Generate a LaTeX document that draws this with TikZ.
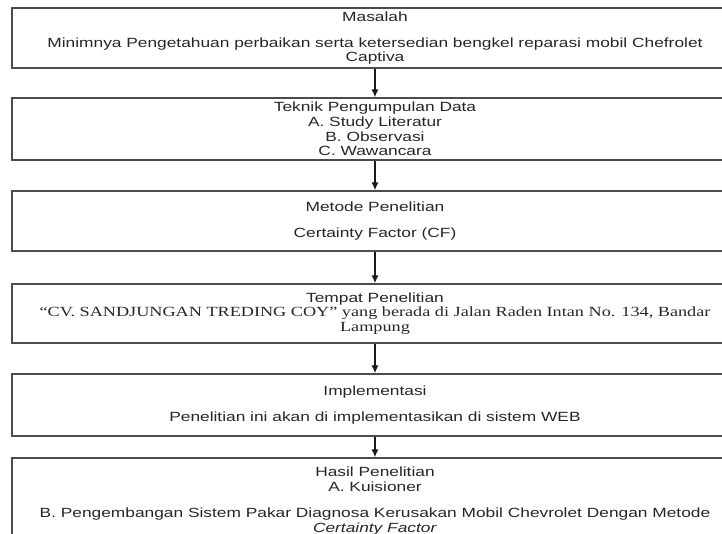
\documentclass[tikz,border=0pt]{standalone}
\usepackage{fontspec}
\setmainfont{Liberation Sans}[FakeStretch=1.3]
\newfontfamily\timesfont{Liberation Serif}[FakeStretch=1.3]
\usetikzlibrary{arrows.meta}

\tikzset{
    box/.style={draw=black!70, line width=1.1pt, minimum width=544.5pt, align=center,
        inner sep=0pt, text=black!85, font=\fontsize{10}{11}\selectfont},
    flow/.style={-{Latex[length=6pt,width=5.5pt]}, line width=1.1pt, black!90}
}

\begin{document}
\begin{tikzpicture}[x=0.75pt, y=-0.75pt]

        \useasboundingbox (0, 0) rectangle (722, 534);
        \clip (0, 0) rectangle (722, 534);

        \node[box, minimum height=45pt] (masalah) at (375, 38) {Masalah\\[8.5pt]
            Minimnya Pengetahuan perbaikan serta ketersedian bengkel reparasi mobil Chefrolet\\ Captiva};

        \node[box, minimum height=46.5pt] (teknik) at (375, 129) {Teknik Pengumpulan Data\\
            A. Study Literatur\\ B. Observasi\\ C. Wawancara};

        \node[box, minimum height=45pt] (metode) at (375, 221) {Metode Penelitian\\[8.5pt]
            Certainty Factor (CF)};

        \node[box, minimum height=44.25pt] (tempat) at (375, 313.5) {Tempat Penelitian\\
            {\timesfont\fontsize{10.5}{11}\selectfont “CV. SANDJUNGAN TREDING COY” yang berada di Jalan Raden Intan No. 134, Bandar}\\
            {\timesfont\fontsize{10.5}{11}\selectfont Lampung}};

        \node[box, minimum height=46.5pt] (implementasi) at (375, 405) {Implementasi\\[8.5pt]
            Penelitian ini akan di implementasikan di sistem WEB};

        \node[box, minimum height=64.5pt] (hasil) at (375, 501) {Hasil Penelitian\\
            A. Kuisioner\\[8.5pt]
            B. Pengembangan Sistem Pakar Diagnosa Kerusakan Mobil Chevrolet Dengan Metode\\
            \textit{Certainty Factor}};

        % alur
        \draw[flow] (masalah) -- (teknik);
        \draw[flow] (teknik) -- (metode);
        \draw[flow] (metode) -- (tempat);
        \draw[flow] (tempat) -- (implementasi);
        \draw[flow] (implementasi) -- (hasil);

\end{tikzpicture}
\end{document}
